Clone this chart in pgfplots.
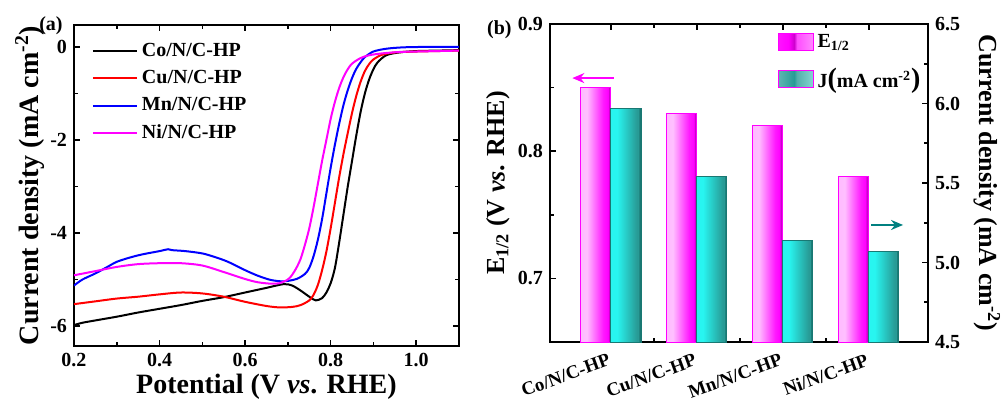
\documentclass[border=0pt]{standalone}
\usepackage{fontspec}
\setmainfont{Liberation Serif}
\usepackage{pgfplots}
\pgfplotsset{compat=1.18}
\usetikzlibrary{arrows.meta}

\definecolor{mag}{RGB}{255,0,255}
\definecolor{magdk}{RGB}{205,0,205}
\definecolor{cyb}{RGB}{40,245,240}
\definecolor{tld}{RGB}{40,155,150}
\definecolor{tlb}{RGB}{25,120,115}
\definecolor{arrteal}{RGB}{0,128,128}

\pgfdeclarehorizontalshading{magbar}{100bp}{color(0bp)=(mag!75!white); color(8bp)=(mag!30!white); color(35bp)=(mag!25!white); color(62bp)=(mag!90!white); color(70bp)=(mag); color(71bp)=(magdk); color(73bp)=(magdk); color(74bp)=(mag); color(100bp)=(mag)}
\pgfdeclarehorizontalshading{cybar}{100bp}{color(0bp)=(cyb); color(35bp)=(cyb); color(68bp)=(tld); color(71bp)=(tld); color(72bp)=(tlb); color(74bp)=(tlb); color(75bp)=(tld!90!white); color(100bp)=(tld!85!white)}
\pgfdeclarehorizontalshading{legE}{100bp}{color(0bp)=(mag!80!white); color(40bp)=(mag); color(48bp)=(magdk); color(52bp)=(mag!70!white); color(100bp)=(mag!20!white)}
\pgfdeclarehorizontalshading{legJ}{100bp}{color(0bp)=(tld!45!white); color(48bp)=(tld); color(52bp)=(tld!80!white); color(100bp)=(cyb!30!white)}

\pgfplotsset{
  myaxis/.style={
    scale only axis,
    axis line style={line width=1pt},
    every tick/.style={black, line width=0.8pt},
    major tick length=3pt,
    minor tick length=2pt,
    tick align=inside,
    tick label style={font=\bfseries\fontsize{10}{12}\selectfont},
    clip mode=individual,
  },
  ebar/.style={ybar, bar width=0.35, bar shift=-0.175, draw=mag, line width=0.5pt, shade, shading=magbar, forget plot},
  jbar/.style={ybar, bar width=0.35, bar shift=0.175, draw=tlb, line width=0.5pt, shade, shading=cybar, forget plot},
}

\begin{document}
\begin{tikzpicture}

% (a) LSV curves
\begin{axis}[myaxis,
  name=a,
  at={(0pt,0pt)}, anchor=south west,
  width=192.5pt, height=160.5pt,
  xmin=0.2, xmax=1.1, ymin=-6.43, ymax=0.47,
  xtick={0.2,0.4,0.6,0.8,1.0}, xticklabels={0.2,0.4,0.6,0.8,1.0},
  minor x tick num=1,
  ytick={-6,-4,-2,0}, yticklabels={-6,-4,-2,0},
  minor y tick num=1,
  xlabel={\bfseries Potential (V \textit{vs}. RHE)},
  ylabel={\bfseries Current density (mA cm\textsuperscript{-2})},
  label style={font=\bfseries\fontsize{14}{16}\selectfont},
  xlabel style={yshift=3pt},
  ylabel style={yshift=-4pt},
  legend style={draw=none, fill=none, at={(0.03,0.97)}, anchor=north west,
    font=\bfseries\fontsize{10}{12}\selectfont, row sep=1.5pt},
  legend cell align=left,
  legend image code/.code={\draw[#1] (0pt,0pt) -- (22pt,0pt);},
]
\addplot[black, line width=1pt, smooth] coordinates {
(0.20,-5.98)(0.22,-5.93)(0.25,-5.88)(0.30,-5.80)(0.35,-5.71)(0.40,-5.63)(0.45,-5.55)(0.50,-5.46)(0.55,-5.38)(0.60,-5.28)(0.65,-5.18)(0.69,-5.10)(0.71,-5.13)(0.73,-5.24)(0.75,-5.37)(0.765,-5.45)(0.78,-5.40)(0.79,-5.28)(0.80,-5.08)(0.81,-4.75)(0.82,-4.20)(0.83,-3.60)(0.84,-3.00)(0.85,-2.45)(0.86,-1.90)(0.87,-1.40)(0.88,-1.00)(0.89,-0.70)(0.90,-0.48)(0.91,-0.33)(0.93,-0.18)(0.96,-0.12)(1.00,-0.09)(1.05,-0.08)(1.10,-0.07)
};
\addlegendentry{Co/N/C-HP}
\addplot[red, line width=1pt, smooth] coordinates {
(0.20,-5.53)(0.25,-5.47)(0.30,-5.41)(0.35,-5.37)(0.40,-5.32)(0.45,-5.28)(0.50,-5.30)(0.55,-5.37)(0.60,-5.48)(0.65,-5.57)(0.68,-5.60)(0.71,-5.59)(0.73,-5.55)(0.75,-5.45)(0.76,-5.33)(0.77,-5.12)(0.78,-4.80)(0.79,-4.40)(0.80,-3.90)(0.81,-3.35)(0.82,-2.80)(0.83,-2.30)(0.84,-1.85)(0.85,-1.42)(0.86,-1.05)(0.87,-0.75)(0.88,-0.52)(0.89,-0.37)(0.90,-0.27)(0.92,-0.17)(0.95,-0.12)(1.00,-0.10)(1.05,-0.09)(1.10,-0.08)
};
\addlegendentry{Cu/N/C-HP}
\addplot[blue, line width=1pt, smooth] coordinates {
(0.20,-5.13)(0.22,-5.00)(0.25,-4.87)(0.28,-4.72)(0.30,-4.62)(0.33,-4.53)(0.36,-4.46)(0.40,-4.39)(0.42,-4.35)(0.43,-4.37)(0.46,-4.39)(0.50,-4.44)(0.53,-4.52)(0.56,-4.62)(0.60,-4.80)(0.63,-4.92)(0.66,-5.01)(0.69,-5.04)(0.72,-4.99)(0.74,-4.88)(0.75,-4.75)(0.76,-4.50)(0.77,-4.15)(0.78,-3.70)(0.79,-3.15)(0.80,-2.60)(0.81,-2.10)(0.82,-1.65)(0.83,-1.25)(0.84,-0.93)(0.85,-0.67)(0.86,-0.47)(0.87,-0.33)(0.88,-0.22)(0.90,-0.10)(0.93,-0.04)(0.97,-0.01)(1.03,0.00)(1.10,0.00)
};
\addlegendentry{Mn/N/C-HP}
\addplot[mag, line width=1pt, smooth] coordinates {
(0.20,-4.91)(0.25,-4.82)(0.30,-4.73)(0.35,-4.67)(0.40,-4.65)(0.45,-4.65)(0.50,-4.70)(0.55,-4.84)(0.60,-4.99)(0.63,-5.06)(0.66,-5.09)(0.68,-5.08)(0.70,-5.00)(0.71,-4.90)(0.72,-4.75)(0.73,-4.55)(0.74,-4.25)(0.75,-3.90)(0.76,-3.45)(0.77,-2.95)(0.78,-2.45)(0.79,-2.00)(0.80,-1.55)(0.81,-1.18)(0.82,-0.88)(0.83,-0.65)(0.84,-0.48)(0.85,-0.36)(0.87,-0.24)(0.89,-0.18)(0.92,-0.14)(0.96,-0.11)(1.00,-0.10)(1.05,-0.09)(1.10,-0.08)
};
\addlegendentry{Ni/N/C-HP}
\end{axis}

% (b) bars, left scale E1/2
\begin{axis}[myaxis,
  name=b,
  at={(238pt,2pt)}, anchor=south west,
  width=189pt, height=159pt,
  xmin=-0.71, xmax=3.69, ymin=0.65, ymax=0.9,
  xtick={0,1,2,3},
  xticklabels={Co/N/C-HP,Cu/N/C-HP,Mn/N/C-HP,Ni/N/C-HP},
  minor x tick num=1,
  xtick pos=both, xticklabel pos=lower,
  xticklabel style={rotate=20, anchor=north east, inner sep=0.5pt, xshift=-3pt, yshift=-4pt, font=\bfseries\fontsize{9.4}{11}\selectfont},
  ytick={0.7,0.8,0.9}, yticklabels={0.7,0.8,0.9},
  minor ytick={0.65,0.75,0.85},
  ytick pos=left,
  ylabel={\bfseries E\textsubscript{1/2} (V \textit{vs}. RHE)},
  label style={font=\bfseries\fontsize{13}{15}\selectfont},
  ylabel style={yshift=-3pt},
]
% one plot per bar so each bar gets its own shading
\addplot[ebar] coordinates {(0,0.85)};
\addplot[ebar] coordinates {(1,0.83)};
\addplot[ebar] coordinates {(2,0.82)};
\addplot[ebar] coordinates {(3,0.78)};
\draw[-{Stealth[length=6pt,width=5pt]}, mag, line width=1.2pt] (axis cs:0.03,0.8575) -- (axis cs:-0.45,0.8575);
\end{axis}

% (b) bars, right scale J
\begin{axis}[myaxis,
  at={(238pt,2pt)}, anchor=south west,
  width=189pt, height=159pt,
  xmin=-0.71, xmax=3.69, ymin=4.5, ymax=6.5,
  axis x line=none,
  axis y line*=right,
  ytick={4.5,5.0,5.5,6.0,6.5}, yticklabels={4.5,5.0,5.5,6.0,6.5},
  minor ytick={4.75,5.25,5.75,6.25},
  ylabel={\bfseries Current density (mA cm\textsuperscript{-2})},
  label style={font=\bfseries\fontsize{13}{15}\selectfont},
  ylabel style={rotate=180},
  legend style={draw=none, fill=none, at={(0.585,0.995)}, anchor=north west,
    font=\bfseries\fontsize{10}{12}\selectfont, row sep=5pt},
  legend cell align=left,
  legend image code/.code={\draw[#1] (0pt,-4.25pt) rectangle (17.5pt,4.25pt);},
]
\addlegendimage{draw=mag, line width=0.5pt, shade, shading=legE}
\addlegendentry{E\textsubscript{1/2}}
\addlegendimage{draw=mag, line width=0.5pt, shade, shading=legJ}
\addlegendentry{J{\fontsize{14}{14}\selectfont(}mA cm\textsuperscript{-2}{\fontsize{14}{14}\selectfont)}}
\addplot[jbar] coordinates {(0,5.97)};
\addplot[jbar] coordinates {(1,5.54)};
\addplot[jbar] coordinates {(2,5.14)};
\addplot[jbar] coordinates {(3,5.07)};
\draw[-{Stealth[length=6pt,width=5pt]}, arrteal, line width=1.2pt] (axis cs:3.03,5.236) -- (axis cs:3.40,5.236);
\end{axis}

\node[anchor=east, font=\bfseries\fontsize{10}{12}\selectfont, inner sep=0pt] at ([xshift=-5.5pt,yshift=-0.5pt]a.north west) {(a)};
\node[anchor=east, font=\bfseries\fontsize{10}{12}\selectfont, inner sep=0pt] at ([xshift=-19pt,yshift=-3pt]b.north west) {(b)};

\pgfresetboundingbox
\useasboundingbox (-37pt,-31.5pt) rectangle (464.5pt,173pt);
\end{tikzpicture}
\end{document}
